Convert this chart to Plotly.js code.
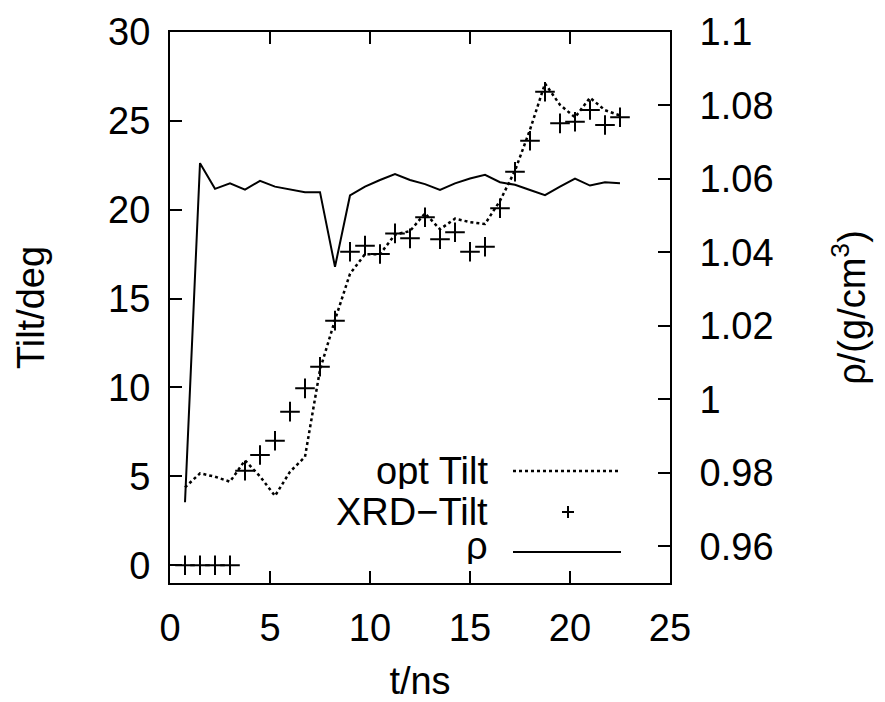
<!DOCTYPE html>
<html>
<head>
<meta charset="utf-8">
<script src="https://cdn.plot.ly/plotly-3.0.1.min.js"></script>
<style>html,body{margin:0;padding:0;background:#fff;}</style>
</head>
<body>
<div id="chart" style="width:885px;height:702px;"></div>
<script>
// time in ns
const timeNs = [0.75,1.5,2.25,3.0,3.75,4.5,5.25,6.0,6.75,7.5,8.25,9.0,9.75,10.5,11.25,12.0,12.75,13.5,14.25,15.0,15.75,16.5,17.25,18.0,18.75,19.5,20.25,21.0,21.75,22.5];
// optical tilt (deg)
const optTilt = [4.38,5.17,4.98,4.70,5.9,5.0,3.9,5.26,6.1,11.0,13.8,16.4,17.5,17.5,18.6,18.8,19.8,18.9,19.5,19.3,19.2,20.5,22.2,24.5,27.1,25.9,25.2,26.3,25.6,25.3];
// XRD tilt (deg)
const xrdTilt = [0,0,0,0,5.32,6.2,7.0,8.64,9.95,11.17,13.76,17.64,17.98,17.51,18.67,18.39,19.58,18.34,18.73,17.64,17.92,20.08,22.14,23.88,26.64,24.86,24.95,25.61,24.77,25.2];
// density (g/cm^3)
const density = [0.972,1.0643,1.0573,1.0588,1.0571,1.0595,1.0579,1.0572,1.0564,1.0564,1.0361,1.0555,1.0579,1.0597,1.0613,1.0597,1.0586,1.0570,1.0588,1.0601,1.0611,1.0591,1.0584,1.0570,1.0556,1.0579,1.0601,1.0582,1.0591,1.0588];
// tick labels
const xTicks = [0,5,10,15,20,25];
const yTicks = [0,5,10,15,20,25,30];
const y2Ticks = [0.96,0.98,1.0,1.02,1.04,1.06,1.08,1.1];
const y2TickText = ['0.96','0.98','1','1.02','1.04','1.06','1.08','1.1'];
const seriesNames = ['opt Tilt','XRD\u2212Tilt','\u03c1'];

const FONT = 'Liberation Sans, Arial, Helvetica, sans-serif';
const FS = 38;

const traces = [
  {x: timeNs, y: optTilt, type:'scatter', mode:'lines', name: seriesNames[0],
   line:{color:'#000', width:2.5, dash:'3px,3px'}, yaxis:'y'},
  {x: timeNs, y: xrdTilt, type:'scatter', mode:'markers', name: seriesNames[1],
   marker:{symbol:'cross-thin', size:14, color:'#000', line:{width:2, color:'#000'}}, yaxis:'y', cliponaxis:false},
  {x: timeNs, y: density, type:'scatter', mode:'lines', name: seriesNames[2],
   line:{color:'#000', width:2}, yaxis:'y2'}
];

// legend geometry (paper coords)
const L = 170, R = 670, T = 32, B = 583;
const px = v => (v - L) / (R - L);
const py = v => (B - v) / (B - T);
const rows = [471, 512, 552];
const textX = px(490);

const shapes = [
  {type:'line', xref:'paper', yref:'paper', x0:px(513), x1:px(621), y0:py(rows[0]), y1:py(rows[0]),
   line:{color:'#000', width:2.5, dash:'3px,3px'}},
  {type:'line', xref:'paper', yref:'paper', x0:px(562), x1:px(574), y0:py(rows[1]), y1:py(rows[1]),
   line:{color:'#000', width:2}},
  {type:'line', xref:'paper', yref:'paper', x0:px(568), x1:px(568), y0:py(rows[1]-6), y1:py(rows[1]+6),
   line:{color:'#000', width:2}},
  {type:'line', xref:'paper', yref:'paper', x0:px(513), x1:px(621), y0:py(rows[2]), y1:py(rows[2]),
   line:{color:'#000', width:2}}
];

const annotations = seriesNames.map((n, i) => ({
  text: n, xref:'paper', yref:'paper', x: textX, y: py(rows[i] + (i===2 ? -6 : 0)),
  xanchor:'right', yanchor:'middle', showarrow:false, height:36, valign:'middle',
  font:{family:FONT, size:FS, color:'#000'}
}));

const axisCommon = {
  showgrid:false, zeroline:false, showline:true, linecolor:'#000', linewidth:2,
  ticks:'inside', ticklen:12, tickwidth:2, tickcolor:'#000',
  tickfont:{family:FONT, size:FS, color:'#000'}
};

const layout = {
  width:885, height:702,
  margin:{l:L, r:885-R, t:T, b:702-B},
  paper_bgcolor:'#fff', plot_bgcolor:'#fff',
  showlegend:false,
  font:{family:FONT, size:FS, color:'#000'},
  xaxis: Object.assign({}, axisCommon, {
    range:[0,25], tickvals:xTicks, mirror:'ticks', ticklabelstandoff:10,
    title:{text:'t/ns', font:{family:FONT, size:FS, color:'#000'}, standoff:28}
  }),
  yaxis: Object.assign({}, axisCommon, {
    range:[-1,30], tickvals:yTicks, mirror:true, ticklabelstandoff:10,
    title:{text:'Tilt/deg', font:{family:FONT, size:FS, color:'#000'}, standoff:52}
  }),
  yaxis2: Object.assign({}, axisCommon, {
    overlaying:'y', side:'right', range:[0.95,1.1], tickvals:y2Ticks, ticktext:y2TickText,
    ticklabelstandoff:20,
    title:{text:'\u03c1/(g/cm<sup>3</sup>)', font:{family:FONT, size:FS, color:'#000'}, standoff:66}
  }),
  shapes: shapes,
  annotations: annotations
};

Plotly.newPlot('chart', traces, layout, {staticPlot:true, displayModeBar:false});
</script>
</body>
</html>
